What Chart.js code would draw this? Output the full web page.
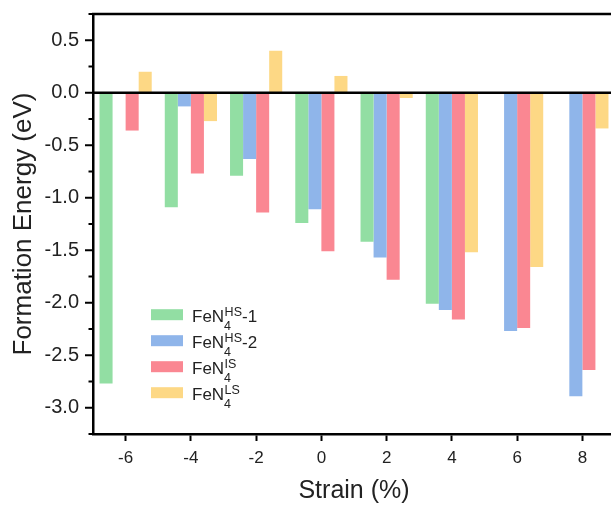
<!DOCTYPE html>
<html>
<head>
<meta charset="utf-8">
<script src="https://cdn.jsdelivr.net/npm/chart.js@4.4.0/dist/chart.umd.min.js"></script>
<style>
  html, body { margin: 0; padding: 0; background: #fff; overflow: hidden; }
  #wrap { width: 611px; height: 506px; overflow: hidden; }
  #box { width: 617px; height: 506px; position: relative; }
</style>
</head>
<body>
<div id="wrap"><div id="box"><canvas id="c"></canvas></div></div>
<script>
// Strain values (%) along the x axis
const strain = ['-6', '-4', '-2', '0', '2', '4', '6', '8'];

// Formation energies (eV) for each spin configuration
const feHS1 = [-2.77, -1.09, -0.79, -1.24, -1.42, -2.01, null, null];
const feHS2 = [null, -0.13, -0.63, -1.11, -1.57, -2.07, -2.27, -2.89];
const feIS  = [-0.36, -0.77, -1.14, -1.51, -1.78, -2.16, -2.24, -2.64];
const feLS  = [0.20, -0.27, 0.40, 0.16, -0.05, -1.52, -1.66, -0.34];

// Legend text pieces: FeN + subscript 4 + superscript + tail
const legendBase = 'FeN';
const legendSub = '4';
const legendSup = ['HS', 'HS', 'IS', 'LS'];
const legendTail = ['-1', '-2', '', ''];

const colors = ['rgb(146,222,163)', 'rgb(143,181,234)', 'rgb(250,135,146)', 'rgb(253,216,133)'];
const FONT = 'Arial, "Liberation Sans", sans-serif';
const INK = '#222';

// Zero line, top frame line, y-axis major/minor ticks and the custom legend
const decorations = {
  id: 'decorations',
  afterDatasetsDraw(chart) {
    const { ctx, chartArea } = chart;
    const y = chart.scales.y;
    ctx.save();
    ctx.strokeStyle = '#000';
    ctx.lineWidth = 2.5;
    const y0 = y.getPixelForValue(0);
    ctx.beginPath();
    ctx.moveTo(chartArea.left, y0);
    ctx.lineTo(chartArea.right, y0);
    ctx.moveTo(chartArea.left - 1, chartArea.top);
    ctx.lineTo(chartArea.right, chartArea.top);
    ctx.stroke();

    // y ticks: long for labelled values, short in between
    ctx.lineWidth = 2;
    y.ticks.forEach((t, i) => {
      const py = y.getPixelForTick(i);
      const major = Math.abs(t.value * 2 - Math.round(t.value * 2)) < 1e-6;
      const len = major ? 8 : 4.5;
      ctx.beginPath();
      ctx.moveTo(chartArea.left - len, py);
      ctx.lineTo(chartArea.left, py);
      ctx.stroke();
    });

    // legend
    const lx = 151, ly = 314.7, step = 26;
    chart.data.datasets.forEach((ds, i) => {
      const cy = ly + i * step;
      ctx.fillStyle = ds.backgroundColor;
      ctx.fillRect(lx, cy - 5.5, 32, 11);
      ctx.fillStyle = INK;
      ctx.textBaseline = 'alphabetic';
      ctx.textAlign = 'left';
      ctx.font = '17px ' + FONT;
      let x = lx + 41;
      const base = cy + 7;
      ctx.fillText(legendBase, x, base);
      x += ctx.measureText(legendBase).width;
      ctx.font = '12.5px ' + FONT;
      ctx.fillText(legendSub, x, base + 8);
      ctx.fillText(legendSup[i], x + 0.5, base - 6);
      const w = Math.max(ctx.measureText(legendSub).width, ctx.measureText(legendSup[i]).width + 0.5);
      x += w;
      if (legendTail[i]) {
        ctx.font = '17px ' + FONT;
        ctx.fillText(legendTail[i], x, base);
      }
    });
    ctx.restore();
  }
};

new Chart(document.getElementById('c'), {
  type: 'bar',
  data: {
    labels: strain,
    datasets: [
      { label: 'FeN4 HS-1', data: feHS1, backgroundColor: colors[0] },
      { label: 'FeN4 HS-2', data: feHS2, backgroundColor: colors[1] },
      { label: 'FeN4 IS', data: feIS, backgroundColor: colors[2] },
      { label: 'FeN4 LS', data: feLS, backgroundColor: colors[3] }
    ]
  },
  options: {
    responsive: true,
    maintainAspectRatio: false,
    devicePixelRatio: 1,
    animation: false,
    layout: { padding: { top: 14, right: 2, left: 0, bottom: 0 } },
    datasets: { bar: { categoryPercentage: 0.8, barPercentage: 1.0, borderWidth: 0 } },
    plugins: { legend: { display: false }, tooltip: { enabled: false } },
    scales: {
      x: {
        type: 'category',
        offset: true,
        afterFit(s) { s.height = 72; s.paddingLeft = 0; s.paddingRight = 0; },
        grid: { display: true, offset: false, drawOnChartArea: false, drawTicks: true,
                tickLength: 7, tickWidth: 2, tickColor: '#000' },
        border: { display: true, color: '#000', width: 2.5 },
        ticks: { color: INK, font: { family: FONT, size: 17 }, padding: 7, maxRotation: 0 },
        title: { display: true, text: 'Strain (%)', color: INK,
                 font: { family: FONT, size: 25, lineHeight: 1 }, padding: { top: 0, bottom: 2.5 } }
      },
      y: {
        min: -3.25,
        max: 0.75,
        afterFit(s) { s.width = 93; s.paddingTop = 0; s.paddingBottom = 0; },
        grid: { display: false, drawTicks: false },
        border: { display: true, color: '#000', width: 2.5 },
        ticks: {
          stepSize: 0.25,
          autoSkip: false,
          color: INK,
          font: { family: FONT, size: 20 },
          padding: 14,
          callback(v) {
            return Math.abs(v * 2 - Math.round(v * 2)) < 1e-6 ? v.toFixed(1) : '';
          }
        },
        title: { display: true, text: 'Formation Energy (eV)', color: INK,
                 font: { family: FONT, size: 26, lineHeight: 1 }, padding: { top: 11, bottom: 0 } }
      }
    }
  },
  plugins: [decorations]
});
</script>
</body>
</html>
